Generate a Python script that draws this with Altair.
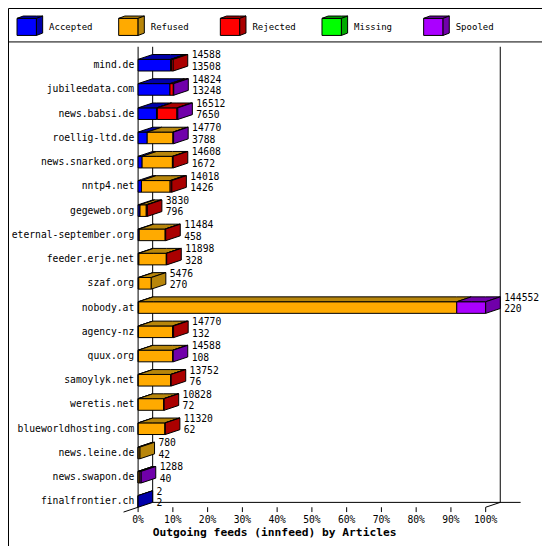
import altair as alt
import pandas as pd

# ---------------- data ----------------
HOSTS = ["mind.de", "jubileedata.com", "news.babsi.de", "roellig-ltd.de",
         "news.snarked.org", "nntp4.net", "gegeweb.org", "eternal-september.org",
         "feeder.erje.net", "szaf.org", "nobody.at", "agency-nz", "quux.org",
         "samoylyk.net", "weretis.net", "blueworldhosting.com", "news.leine.de",
         "news.swapon.de", "finalfrontier.ch"]
OFFERED = [14588, 14824, 16512, 14770, 14608, 14018, 3830, 11484, 11898, 5476,
           144552, 14770, 14588, 13752, 10828, 11320, 780, 1288, 2]
ACCEPTED = [13508, 13248, 7650, 3788, 1672, 1426, 796, 458, 328, 270,
            220, 132, 108, 76, 72, 62, 42, 40, 2]
REFUSED = [350, 0, 350, 10700, 12600, 11900, 2600, 10800, 11400, 5206,
           132300, 14200, 14300, 13500, 10600, 11100, 738, 700, 0]
REJECTED = [730, 1400, 8150, 0, 336, 692, 434, 226, 170, 0,
            0, 438, 0, 176, 156, 158, 0, 0, 0]
MISSING = [0, 0, 0, 0, 0, 0, 0, 0, 0, 0, 0, 0, 0, 0, 0, 0, 0, 0, 0]
SPOOLED = [0, 176, 362, 282, 0, 0, 0, 0, 0, 0,
           12032, 0, 180, 0, 0, 0, 0, 548, 0]
CATEGORIES = ["Accepted", "Refused", "Rejected", "Missing", "Spooled"]
FRONT_COLORS = ["#0000FF", "#FFAA00", "#FF0000", "#00FF00", "#AA00FF"]
DARK_COLORS = ["#0000AA", "#B8860B", "#AA0000", "#00AA00", "#7000AA"]
TICK_VALUES = [0, 10, 20, 30, 40, 50, 60, 70, 80, 90, 100]
TITLE = "Outgoing feeds (innfeed) by Articles"

# ---------------- layout (reference pixel geometry) ----------------
W, H = 534, 538
REF_W, REF_H = 550, 555
F = W / REF_W                # font / size scale
X0_REF, PCT_PX = 134.0, 3.58  # 0% position and pixels per percent in reference
Y0_REF, ROW_PX = 59.0, 25.0   # first row centre and row pitch in reference


def ux(px):
    return (px - X0_REF) / PCT_PX


def uy(py):
    return (py - Y0_REF) / ROW_PX


D = 15 / PCT_PX      # depth to the right (percent units)
HUP = 5 / ROW_PX     # depth upward (row units)
HALF = 6 / ROW_PX    # half height of a bar front

XS = alt.Scale(domain=[ux(0), ux(REF_W)], nice=False, zero=False)
YS = alt.Scale(domain=[uy(0), uy(REF_H)], nice=False, zero=False, reverse=True)

series = [ACCEPTED, REFUSED, REJECTED, MISSING, SPOOLED]
maxv = max(OFFERED)

rects, areas = [], []
face_id = [0]


def add_para_top(xa, xb, yt, dx, dy, fill):
    pts = sorted([xa, xb, xa + dx, xb + dx])
    fid = face_id[0]
    face_id[0] += 1
    for k, x in enumerate(pts):
        up = yt - dy * min(1.0, max(0.0, (x - xa) / dx))
        lo = yt - dy * min(1.0, max(0.0, (x - xb) / dx))
        areas.append(dict(face=f"f{fid:03d}", k=k, x=x, y=up, y2=lo, fill=fill))


def add_side(xb, yt, yb, dx, dy, fill):
    fid = face_id[0]
    face_id[0] += 1
    areas.append(dict(face=f"f{fid:03d}", k=0, x=xb, y=yt, y2=yb, fill=fill))
    areas.append(dict(face=f"f{fid:03d}", k=1, x=xb + dx, y=yt - dy, y2=yb - dy, fill=fill))


for i, host in enumerate(HOSTS):
    cum = 0
    last = 0
    for j, s in enumerate(series):
        v = s[i]
        if v <= 0:
            continue
        x0 = cum / maxv * 100
        x1 = (cum + v) / maxv * 100
        rects.append(dict(x=x0, x2=x1, y=i - HALF, y2=i + HALF, fill=FRONT_COLORS[j]))
        add_para_top(x0, x1, i - HALF, D, HUP, DARK_COLORS[j])
        cum += v
        last = j
    xe = cum / maxv * 100
    add_side(xe, i - HALF, i + HALF, D, HUP, DARK_COLORS[last])

# legend cubes
legend_txt = []
for k, cat in enumerate(CATEGORIES):
    bx = 9.3 + 104.7 * k
    rects.append(dict(x=ux(bx), x2=ux(bx + 20), y=uy(10.7), y2=uy(28.3), fill=FRONT_COLORS[k]))
    ldx, ldy = 6.4 / PCT_PX, 2.4 / ROW_PX
    add_para_top(ux(bx), ux(bx + 20), uy(10.7), ldx, ldy, DARK_COLORS[k])
    add_side(ux(bx + 20), uy(10.7), uy(28.3), ldx, ldy, DARK_COLORS[k])
    legend_txt.append(dict(x=ux(bx + 33), y=uy(20), text=cat))

rect_df = pd.DataFrame(rects)
area_df = pd.DataFrame(areas)

# frame lines
rules = [
    dict(x=ux(0), x2=ux(REF_W), y=uy(35), y2=uy(35)),
    dict(x=0, x2=0, y=uy(40), y2=uy(515)),
    dict(x=D, x2=D, y=uy(40), y2=uy(510)),
    dict(x=100 + D, x2=100 + D, y=uy(40), y2=uy(510)),
    dict(x=D, x2=ux(528), y=uy(510), y2=uy(510)),
    dict(x=-D, x2=0, y=uy(520), y2=uy(515)),
    dict(x=100, x2=100 + D, y=uy(515), y2=uy(510)),
]
for v in TICK_VALUES:
    rules.append(dict(x=v, x2=v, y=uy(515), y2=uy(520)))
rule_df = pd.DataFrame(rules)

host_df = pd.DataFrame(dict(x=[ux(130)] * len(HOSTS), y=list(range(len(HOSTS))), text=HOSTS))

num_rows = []
for i in range(len(HOSTS)):
    xt = OFFERED[i] / maxv * 100 + D + 4 / PCT_PX
    num_rows.append(dict(x=xt, y=i - 10 / ROW_PX, text=str(OFFERED[i])))
    num_rows.append(dict(x=xt, y=i + 1.8 / ROW_PX, text=str(ACCEPTED[i])))
num_df = pd.DataFrame(num_rows)

tick_df = pd.DataFrame(dict(x=TICK_VALUES, y=[uy(528)] * len(TICK_VALUES),
                            text=[f"{v}%" for v in TICK_VALUES]))
title_df = pd.DataFrame([dict(x=ux(149), y=uy(541.7), text=TITLE)])
legend_df = pd.DataFrame(legend_txt)

FONT = "DejaVu Sans Mono"


def xq(field="x"):
    return alt.X(f"{field}:Q", scale=XS, axis=None)


def yq(field="y"):
    return alt.Y(f"{field}:Q", scale=YS, axis=None, stack=None)


rule_layer = alt.Chart(rule_df).mark_rule(color="black", strokeWidth=1).encode(
    x=xq(), x2="x2:Q", y=yq(), y2="y2:Q")

rect_layer = alt.Chart(rect_df).mark_rect(stroke="black", strokeWidth=1).encode(
    x=xq(), x2="x2:Q", y=yq(), y2="y2:Q", fill=alt.Fill("fill:N", scale=None))

area_layer = alt.Chart(area_df).mark_area(
    stroke="black", strokeWidth=1, orient="vertical", interpolate="linear"
).encode(
    x=xq(), y=yq(), y2="y2:Q",
    fill=alt.Fill("fill:N", scale=None),
    detail="face:N",
)

host_layer = alt.Chart(host_df).mark_text(
    align="right", baseline="middle", font=FONT, fontSize=10 * F, color="black"
).encode(x=xq(), y=yq(), text="text:N")

num_layer = alt.Chart(num_df).mark_text(
    align="left", baseline="middle", font=FONT, fontSize=10 * F, color="black"
).encode(x=xq(), y=yq(), text="text:N")

tick_layer = alt.Chart(tick_df).mark_text(
    align="center", baseline="middle", font=FONT, fontSize=10 * F, color="black"
).encode(x=xq(), y=yq(), text="text:N")

title_layer = alt.Chart(title_df).mark_text(
    align="left", baseline="middle", font=FONT, fontSize=11.6 * F,
    fontWeight="bold", color="black"
).encode(x=xq(), y=yq(), text="text:N")

legend_layer = alt.Chart(legend_df).mark_text(
    align="left", baseline="middle", font=FONT, fontSize=9.3 * F, color="black"
).encode(x=xq(), y=yq(), text="text:N")

chart = alt.layer(
    rule_layer, rect_layer, area_layer, host_layer, num_layer,
    tick_layer, title_layer, legend_layer
).properties(
    width=W, height=H, padding=0, autosize="none", background="white"
).configure_view(stroke="black", strokeWidth=1)

chart.save("out.html", embed_options={"renderer": "svg", "actions": False})
